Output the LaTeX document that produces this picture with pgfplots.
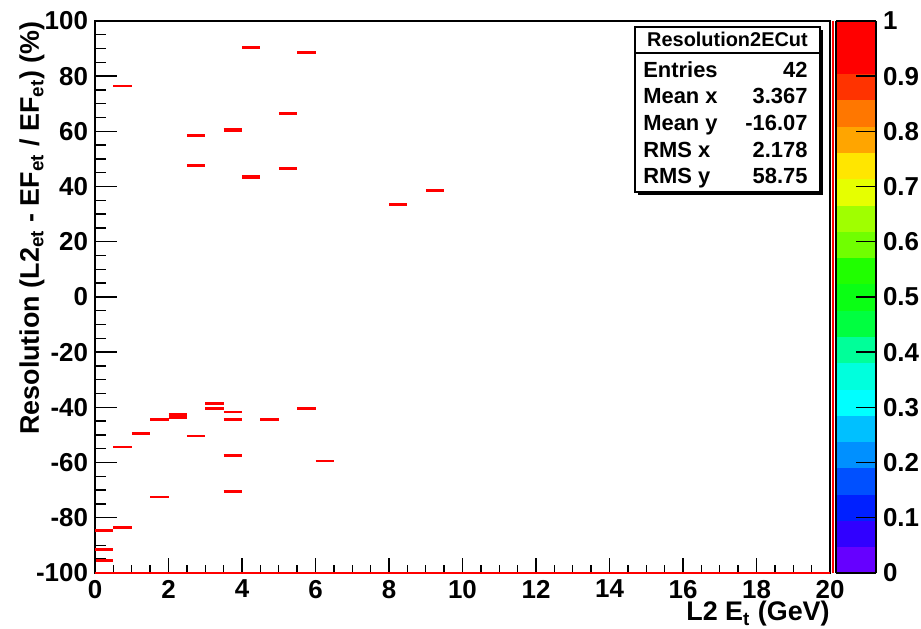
\documentclass[border=0pt]{standalone}
\usepackage{pgfplots}
\pgfplotsset{compat=1.18}
\usepackage{fontspec}
\setmainfont{Liberation Sans}

\newcommand{\ticklabelfont}{\fontsize{13}{13}\selectfont\bfseries}
\newcommand{\titlefont}{\fontsize{13.5}{13.5}\selectfont\bfseries}
\newcommand{\statfont}{\fontsize{11}{11}\selectfont\bfseries}

\pgfplotsset{
  rootframe/.style={
    scale only axis, width=367.5bp, height=276bp,
    xmin=0, xmax=20, ymin=-100, ymax=100,
    tick align=inside,
    axis line style={line width=0.8bp},
    every tick/.style={black, line width=0.7bp},
    /pgf/number format/assume math mode=true,
    tick label style={font=\ticklabelfont},
  },
}

\begin{document}
\begin{tikzpicture}
\useasboundingbox (-47.5bp,-28bp) rectangle (413bp,286.5bp);

% y axis, palette, bins and statistics box
\begin{axis}[rootframe,
  clip=false,
  xtick=\empty,
  ytick={-100,-80,...,100}, minor y tick num=3, ytick pos=left,
  major tick length=11bp, minor tick length=5.5bp,
  ylabel={Resolution (L2\textsubscript{et} - EF\textsubscript{et} / EF\textsubscript{et}) (\%)},
  ylabel style={at={(rel axis cs:-0.0857,1)}, anchor=east, inner sep=0pt, font=\titlefont},
  colormap={rootpal}{
    rgb255=(102,0,255) rgb255=(48,0,255) rgb255=(0,32,255) rgb255=(0,80,255)
    rgb255=(0,144,255) rgb255=(0,192,255) rgb255=(0,255,255) rgb255=(0,255,221)
    rgb255=(0,255,153) rgb255=(0,255,64) rgb255=(10,255,20) rgb255=(32,255,0)
    rgb255=(112,255,0) rgb255=(160,255,0) rgb255=(230,255,0) rgb255=(255,230,0)
    rgb255=(255,165,0) rgb255=(255,119,0) rgb255=(255,51,0) rgb255=(255,0,0)
    rgb255=(255,0,0)},
  colormap access=piecewise constant,
  colorbar, point meta min=0, point meta max=1,
  colorbar style={
    width=20bp,
    at={(parent axis.north east)}, anchor=north west, xshift=-5.5bp,
    ytick={0,0.1,0.2,0.3,0.4,0.5,0.6,0.7,0.8,0.9,1},
    yticklabels={0,0.1,0.2,0.3,0.4,0.5,0.6,0.7,0.8,0.9,1},
    ytick pos=right, yticklabel pos=right,
    tick align=inside,
    major tick length=10bp,
    every tick/.style={black, line width=0.7bp},
    axis line style={line width=0.6bp},
    yticklabel style={font=\ticklabelfont},
    colormap access=piecewise constant,
  },
]
% occupied bins (width 0.5 in x, 1 in y), drawn at the bin centre in y
\addplot[draw=red, color=red, line width=1.6bp, unbounded coords=jump] coordinates {
  (0,-84.5)(0.5,-84.5) (nan,nan)
  (0,-91.5)(0.5,-91.5) (nan,nan)
  (0,-95.5)(0.5,-95.5) (nan,nan)
  (0.5,-83.5)(1,-83.5) (nan,nan)
  (1,-49.5)(1.5,-49.5) (nan,nan)
  (1.5,-44.5)(2,-44.5) (nan,nan)
  (2,-42.5)(2.5,-42.5) (nan,nan)
  (2,-43.5)(2.5,-43.5) (nan,nan)
  (3,-38.5)(3.5,-38.5) (nan,nan)
  (3,-40.5)(3.5,-40.5) (nan,nan)
  (3.5,-44.5)(4,-44.5) (nan,nan)
  (3.5,-57.5)(4,-57.5) (nan,nan)
  (3.5,-70.5)(4,-70.5) (nan,nan)
  (4.5,-44.5)(5,-44.5) (nan,nan)
  (5.5,-40.5)(6,-40.5) (nan,nan)
  (2.5,58.5)(3,58.5) (nan,nan)
  (2.5,47.5)(3,47.5) (nan,nan)
  (3.5,60.5)(4,60.5) (nan,nan)
  (4,90.5)(4.5,90.5) (nan,nan)
  (4,43.5)(4.5,43.5) (nan,nan)
  (5,66.5)(5.5,66.5) (nan,nan)
  (5,46.5)(5.5,46.5) (nan,nan)
  (5.5,88.5)(6,88.5) (nan,nan)
  (8,33.5)(8.5,33.5) (nan,nan)
  (9,38.5)(9.5,38.5)
};
% bins rendered as hairlines
\addplot[draw=red, color=red, line width=1bp, unbounded coords=jump] coordinates {
  (0.5,76.5)(1,76.5) (nan,nan)
  (0.5,-54.5)(1,-54.5) (nan,nan)
  (1.5,-72.5)(2,-72.5) (nan,nan)
  (2.5,-50.5)(3,-50.5) (nan,nan)
  (3.5,-41.5)(4,-41.5) (nan,nan)
  (6,-59.5)(6.5,-59.5)
};

% statistics box
\fill[black] (axis cs:14.77,96.74) rectangle (axis cs:19.81,36.95);
\draw[fill=white, line width=0.75bp] (axis cs:14.69,97.83) rectangle (axis cs:19.73,38.04);
\draw[line width=0.75bp] (axis cs:14.69,88.4) -- (axis cs:19.73,88.4);
\node[anchor=base, inner sep=0pt, font=\fontsize{10}{10}\selectfont\bfseries] at (axis cs:17.21,90.6) {Resolution2ECut};
\node[anchor=base west, inner sep=0pt, font=\statfont] at (axis cs:14.91,79.7) {Entries};
\node[anchor=base east, inner sep=0pt, font=\statfont] at (axis cs:19.40,79.7) {42};
\node[anchor=base west, inner sep=0pt, font=\statfont] at (axis cs:14.91,70.0) {Mean x};
\node[anchor=base east, inner sep=0pt, font=\statfont] at (axis cs:19.40,70.0) {3.367};
\node[anchor=base west, inner sep=0pt, font=\statfont] at (axis cs:14.91,60.4) {Mean y};
\node[anchor=base east, inner sep=0pt, font=\statfont] at (axis cs:19.40,60.4) {-16.07};
\node[anchor=base west, inner sep=0pt, font=\statfont] at (axis cs:14.91,50.7) {RMS x};
\node[anchor=base east, inner sep=0pt, font=\statfont] at (axis cs:19.40,50.7) {2.178};
\node[anchor=base west, inner sep=0pt, font=\statfont] at (axis cs:14.91,41.1) {RMS y};
\node[anchor=base east, inner sep=0pt, font=\statfont] at (axis cs:19.40,41.1) {58.75};
\end{axis}

% x axis with its own (shorter) ticks
\begin{axis}[rootframe,
  clip=false,
  hide y axis,
  xtick={0,2,...,20}, minor x tick num=3, xtick pos=left,
  major tick length=7.5bp, minor tick length=4bp,
  xlabel={L2 E\textsubscript{t} (GeV)},
  xlabel style={at={(rel axis cs:1,0)}, anchor=north east, inner sep=0pt, yshift=-14bp, font=\titlefont},
]
\draw[red, line width=1.2bp] (axis cs:0,-100) -- (axis cs:20,-100);
\draw[red, line width=1.2bp] ([xshift=1.6bp]axis cs:20,-100) -- ([xshift=1.6bp]axis cs:20,100);
\end{axis}
\end{tikzpicture}
\end{document}
